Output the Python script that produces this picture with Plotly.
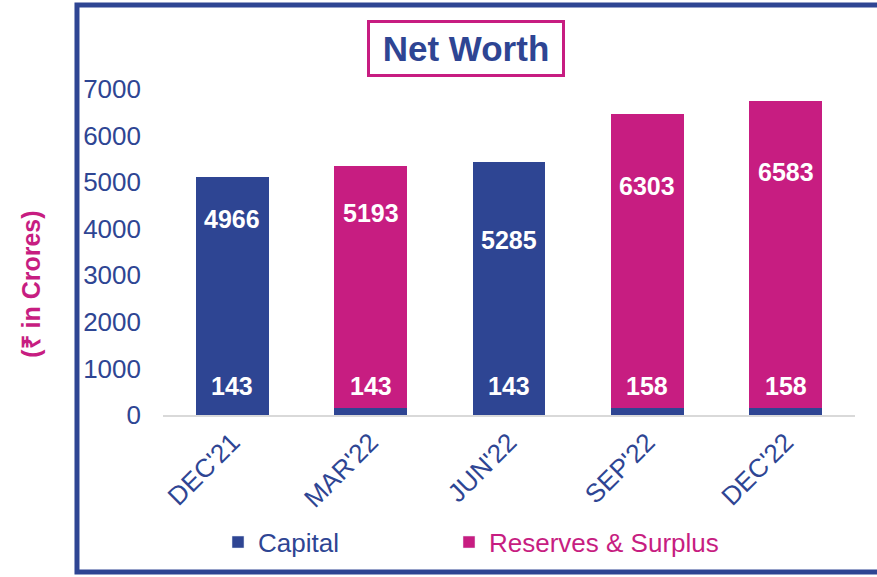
import plotly.graph_objects as go

# -----------------------------
# data
# -----------------------------
QUARTERS = ["DEC'21", "MAR'22", "JUN'22", "SEP'22", "DEC'22"]
CAPITAL = [143, 143, 143, 158, 158]
RESERVES = [4966, 5193, 5285, 6303, 6583]

# -----------------------------
# style
# -----------------------------
NAVY = "#2E4593"
MAGENTA = "#C71D81"
FONT = "Liberation Sans, Arial, sans-serif"
RES_COLORS = [NAVY, MAGENTA, NAVY, MAGENTA, MAGENTA]
# vertical placement of the value labels (axis units)
CAP_LABEL_Y = 620
RES_LABEL_Y = [4200, 4340, 3760, 4915, 5215]

fig = go.Figure()

fig.add_trace(go.Bar(
    x=QUARTERS, y=CAPITAL, name="Capital",
    marker=dict(color=NAVY, line=dict(width=0)),
    showlegend=False, hoverinfo="x+y",
))
fig.add_trace(go.Bar(
    x=QUARTERS, y=RESERVES, name="Reserves & Surplus",
    marker=dict(color=RES_COLORS, line=dict(width=0)),
    showlegend=False, hoverinfo="x+y",
))

# legend entries (the stacked traces use per-bar colours), one legend each
fig.add_trace(go.Bar(x=[QUARTERS[0]], y=[None], name="Capital",
                     marker_color=NAVY, hoverinfo="skip", legend="legend"))
fig.add_trace(go.Bar(x=[QUARTERS[0]], y=[None], name="Reserves & Surplus",
                     marker_color=MAGENTA, hoverinfo="skip", legend="legend2"))

# value labels
for q, c, r, ry in zip(QUARTERS, CAPITAL, RESERVES, RES_LABEL_Y):
    fig.add_annotation(x=q, y=CAP_LABEL_Y, text=f"<b>{c}</b>", showarrow=False,
                       font=dict(family=FONT, size=25, color="white"))
    fig.add_annotation(x=q, y=ry, text=f"<b>{r}</b>", showarrow=False,
                       font=dict(family=FONT, size=25, color="white"))

# title box
fig.add_annotation(
    xref="paper", yref="paper", x=0.4379, y=1.1235,
    xanchor="center", yanchor="middle",
    text="<b>Net Worth</b>", showarrow=False,
    font=dict(family=FONT, size=35, color=NAVY),
    bordercolor=MAGENTA, borderwidth=3, borderpad=0,
    width=192, height=51, bgcolor="white",
)

# y-axis title
fig.add_annotation(
    xref="paper", yref="paper", x=-0.1908, y=0.4024,
    xanchor="center", yanchor="middle",
    text="<b>(₹ in Crores)</b>", textangle=-90, showarrow=False,
    font=dict(family=FONT, size=25, color=MAGENTA),
)

# outer frame
fig.add_shape(type="rect", xref="paper", yref="paper",
              x0=-0.1243, x1=1.06, y0=-0.4817, y1=1.2576,
              line=dict(color=NAVY, width=5))

legend_common = dict(
    orientation="h", y=-0.39, xanchor="left", yanchor="middle",
    itemwidth=30, bgcolor="rgba(0,0,0,0)",
)

fig.update_layout(
    width=877, height=577,
    margin=dict(l=163, r=22, t=89, b=160),
    barmode="stack", bargap=0.473,
    plot_bgcolor="white", paper_bgcolor="white",
    font=dict(family=FONT, size=26, color=NAVY),
    showlegend=True,
    legend=dict(x=0.0795, font=dict(family=FONT, size=26, color=NAVY),
                **legend_common),
    legend2=dict(x=0.4133, font=dict(family=FONT, size=26, color=MAGENTA),
                 **legend_common),
)
fig.update_xaxes(
    showline=True, linecolor="#D9D9D9", linewidth=1.5,
    showgrid=False, ticks="", tickangle=-45,
    tickfont=dict(family=FONT, size=26, color=NAVY),
)
fig.update_yaxes(
    range=[0, 7000], dtick=1000, showgrid=False, zeroline=False,
    showline=False, ticks="", ticklabelstandoff=21,
    tickfont=dict(family=FONT, size=26, color=NAVY),
)

# drop the default body margin so the figure fills the window
fig.write_html("out.html",
               config={"displayModeBar": False},
               post_script="document.body.style.margin='0';"
                           "document.body.style.overflow='hidden';")
